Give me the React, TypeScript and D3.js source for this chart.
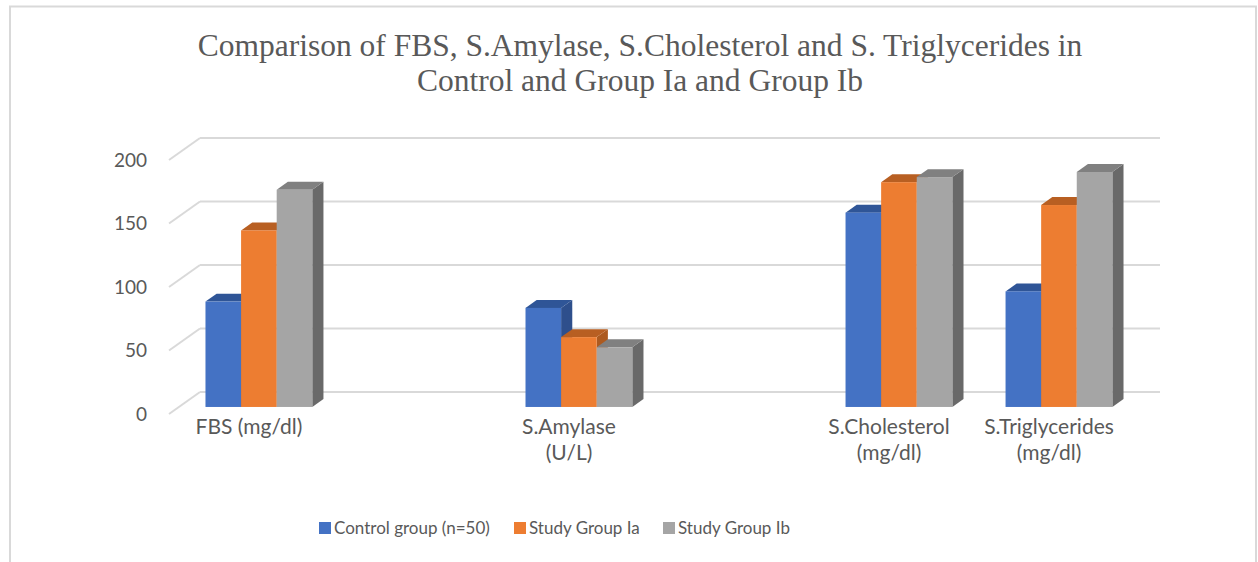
import { useMemo } from "react";
import * as d3 from "d3";

// chart values
const categories = ["FBS (mg/dl)", "", "S.Amylase (U/L)", "", "S.Cholesterol (mg/dl)", "S.Triglycerides (mg/dl)"];
const categoryLines = [["FBS (mg/dl)"], [], ["S.Amylase", "(U/L)"], [], ["S.Cholesterol", "(mg/dl)"], ["S.Triglycerides", "(mg/dl)"]];
const seriesNames = ["Control group (n=50)", "Study Group Ia", "Study Group Ib"];
const controlValues = [83, null, 78, null, 153, 91];
const groupIaValues = [139, null, 55, null, 177, 159];
const groupIbValues = [171, null, 47, null, 181, 185];
const yTicks = [0, 50, 100, 150, 200];

const titleLines = [
  "Comparison of FBS, S.Amylase, S.Cholesterol and S. Triglycerides in",
  "Control and Group Ia and Group Ib",
];

const WIDTH = 1258;
const HEIGHT = 562;
const FRONT = { left: 169, right: 1129, zero: 414 };
const DEPTH = { dx: 31, dy: -22 }; // floor depth in projection
const BAR_F0 = 0.32; // bar front sits this far into the depth
const BAR_F1 = 0.68;

const faceColors = [
  { front: "#4472c4", top: "#2f5597", side: "#2e4f8c" },
  { front: "#ed7d31", top: "#b85f22", side: "#ad5a1f" },
  { front: "#a5a5a5", top: "#808080", side: "#696969" },
];

const GRID = "#d9d9d9";
const TEXT = "#595959";
const SANS = "Lato, 'Open Sans', sans-serif";

const App = () => {
  const x = useMemo(
    () => d3.scaleBand().domain(categories.map((c, i) => i + ":" + c)).range([FRONT.left, FRONT.right]).paddingInner(0.3325).paddingOuter(0.166),
    []
  );
  const xs = useMemo(() => d3.scaleBand().domain(seriesNames).range([0, x.bandwidth()]), [x]);
  const y = useMemo(() => d3.scaleLinear().domain([0, 200]).range([FRONT.zero, FRONT.zero - 254]), []);

  const series = [controlValues, groupIaValues, groupIbValues];
  const bx0 = BAR_F0 * DEPTH.dx;
  const by0 = BAR_F0 * DEPTH.dy;
  const ddx = (BAR_F1 - BAR_F0) * DEPTH.dx;
  const ddy = (BAR_F1 - BAR_F0) * DEPTH.dy;

  const bars: JSX.Element[] = [];
  categories.forEach((c, ci) => {
    series.forEach((vals, si) => {
      const v = vals[ci];
      if (v == null) return;
      const left = (x(ci + ":" + c) as number) + (xs(seriesNames[si]) as number) + bx0;
      const w = xs.bandwidth();
      const top = y(v) + by0;
      const bottom = y(0) + by0;
      const col = faceColors[si];
      const side = d3.path();
      side.moveTo(left + w, top);
      side.lineTo(left + w + ddx, top + ddy);
      side.lineTo(left + w + ddx, bottom + ddy);
      side.lineTo(left + w, bottom);
      side.closePath();
      const lid = d3.path();
      lid.moveTo(left, top);
      lid.lineTo(left + ddx, top + ddy);
      lid.lineTo(left + w + ddx, top + ddy);
      lid.lineTo(left + w, top);
      lid.closePath();
      bars.push(
        <g key={ci + "-" + si}>
          <path d={side.toString()} fill={col.side} />
          <path d={lid.toString()} fill={col.top} />
          <rect x={left} y={top} width={w} height={bottom - top} fill={col.front} />
        </g>
      );
    });
  });

  const legendX = [319, 514, 663];

  return (
    <div style={{ position: "absolute", left: 0, top: 0 }}>
      <svg width={WIDTH} height={HEIGHT} style={{ display: "block", background: "#fff" }}>
        <rect x={10} y={6.5} width={1246} height={600} fill="#fff" stroke={GRID} strokeWidth={2} />

        {titleLines.map((t, i) => (
          <text key={t} x={640} y={56 + i * 35} textAnchor="middle" fontFamily="'Liberation Serif', 'Times New Roman', serif" fontSize={31.5} fill={TEXT}>
            {t}
          </text>
        ))}

        {/* back wall gridlines and floor edges */}
        {yTicks.map((t) => (
          <g key={t}>
            <line x1={FRONT.left + DEPTH.dx} x2={FRONT.right + DEPTH.dx} y1={y(t) + DEPTH.dy} y2={y(t) + DEPTH.dy} stroke={GRID} strokeWidth={2} />
            <line x1={FRONT.left} x2={FRONT.left + DEPTH.dx} y1={y(t)} y2={y(t) + DEPTH.dy} stroke={GRID} strokeWidth={2} />
            <text x={147} y={y(t)} dy="0.35em" textAnchor="end" fontFamily={SANS} fontSize={19} fill={TEXT}>
              {t}
            </text>
          </g>
        ))}

        {bars}

        {categoryLines.map((lines, ci) =>
          lines.map((l, li) => (
            <text
              key={ci + "-" + li}
              x={(x(ci + ":" + categories[ci]) as number) + x.bandwidth() / 2}
              y={434 + li * 26}
              textAnchor="middle"
              fontFamily={SANS}
              fontSize={21}
              fill={TEXT}
            >
              {l}
            </text>
          ))
        )}

        {seriesNames.map((s, i) => (
          <g key={s} transform={`translate(${legendX[i]},528)`}>
            <rect x={0} y={-6} width={12} height={12} fill={faceColors[i].front} />
            <text x={15} y={0} dy="0.35em" fontFamily={SANS} fontSize={17} fill={TEXT}>
              {s}
            </text>
          </g>
        ))}
      </svg>
    </div>
  );
};

export default App;
